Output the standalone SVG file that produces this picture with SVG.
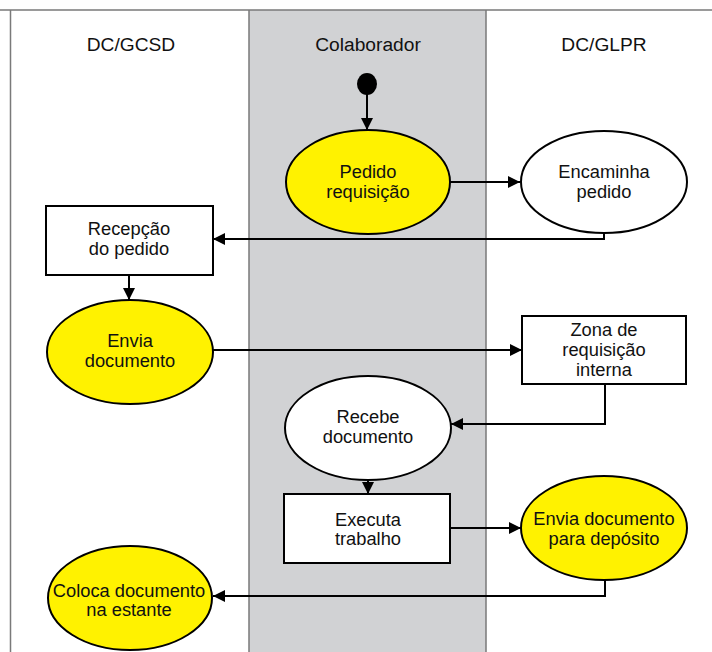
<svg xmlns="http://www.w3.org/2000/svg" width="712" height="652" viewBox="0 0 712 652">
<defs>
<style>
.lane{stroke:#7a7a7a;stroke-width:1.5;fill:none}
.node{stroke:#000;stroke-width:2}
.y{fill:#fff200}
.w{fill:#fff}
text{font-family:"Liberation Sans",Arial,sans-serif;font-size:18.3px;fill:#111;text-anchor:middle}
.hdr{font-size:19.2px}
.conn{stroke:#000;stroke-width:2;fill:none}
</style>
<marker id="arr" viewBox="0 0 10 10" refX="10" refY="5" markerWidth="12" markerHeight="12" markerUnits="userSpaceOnUse" orient="auto">
<path d="M0,0 L10,5 L0,10 z" fill="#000"/>
</marker>
</defs>
<rect x="0" y="0" width="712" height="652" fill="#fff"/>
<rect x="249" y="10" width="237" height="642" fill="#d1d2d4"/>
<g id="lanes">
<path class="lane" d="M0,10 H712 M10.5,10 V652 M249,10 V652 M486,10 V652"/>
<text class="hdr" x="131" y="51">DC/GCSD</text>
<text class="hdr" x="368" y="51">Colaborador</text>
<text class="hdr" x="604" y="51">DC/GLPR</text>
</g>
<g id="connectors">
<path class="conn" d="M367,94 V130" marker-end="url(#arr)"/>
<path class="conn" d="M450,182 H520" marker-end="url(#arr)"/>
<path class="conn" d="M604,232 V239 H213" marker-end="url(#arr)"/>
<path class="conn" d="M129,275 V300" marker-end="url(#arr)"/>
<path class="conn" d="M213,350 H522" marker-end="url(#arr)"/>
<path class="conn" d="M605,384 V424 H451" marker-end="url(#arr)"/>
<path class="conn" d="M368,480 V494" marker-end="url(#arr)"/>
<path class="conn" d="M450,528 H521" marker-end="url(#arr)"/>
<path class="conn" d="M605,580 V596 H213" marker-end="url(#arr)"/>
</g>
<g id="start"><ellipse cx="367" cy="84" rx="10" ry="11" fill="#000"/></g>
<g id="pedido"><ellipse class="node y" cx="368" cy="182" rx="82" ry="52"/><text x="368" y="178">Pedido</text><text x="368" y="198">requisição</text></g>
<g id="encaminha"><ellipse class="node w" cx="604" cy="182" rx="83" ry="51"/><text x="604" y="178">Encaminha</text><text x="604" y="198">pedido</text></g>
<g id="recepcao"><rect class="node w" x="46" y="206" width="167" height="69"/><text x="129" y="235">Recepção</text><text x="129" y="255">do pedido</text></g>
<g id="envia"><ellipse class="node y" cx="130" cy="352" rx="83" ry="52"/><text x="130" y="347">Envia</text><text x="130" y="367">documento</text></g>
<g id="zona"><rect class="node w" x="522" y="316" width="164" height="68"/><text x="604" y="336">Zona de</text><text x="604" y="356">requisição</text><text x="604" y="376">interna</text></g>
<g id="recebe"><ellipse class="node w" cx="368" cy="428" rx="83" ry="52"/><text x="368" y="423">Recebe</text><text x="368" y="443">documento</text></g>
<g id="executa"><rect class="node w" x="284" y="494" width="166" height="69"/><text x="368" y="526">Executa</text><text x="368" y="545">trabalho</text></g>
<g id="deposito"><ellipse class="node y" cx="604" cy="528" rx="83" ry="52"/><text x="604" y="525">Envia documento</text><text x="604" y="545">para depósito</text></g>
<g id="coloca"><ellipse class="node y" cx="130" cy="598" rx="82" ry="52"/><text x="129" y="597">Coloca documento</text><text x="129" y="616">na estante</text></g>
</svg>
